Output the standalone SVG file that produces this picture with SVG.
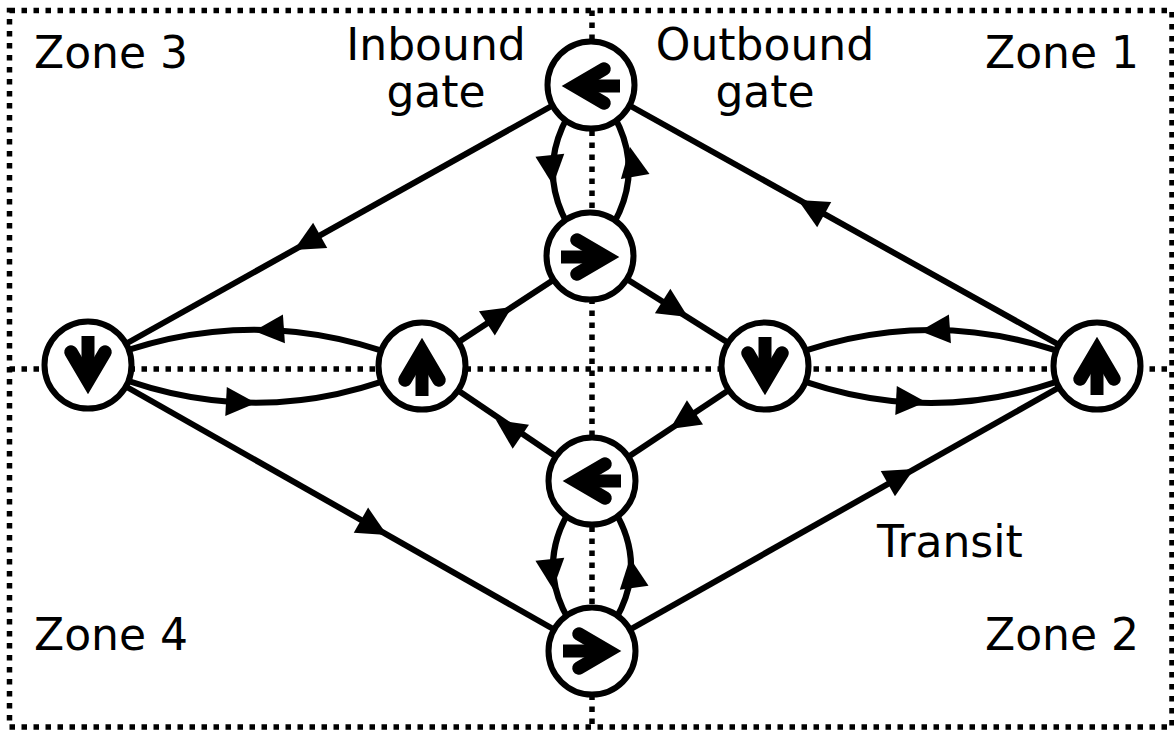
<svg xmlns="http://www.w3.org/2000/svg" xmlns:xlink="http://www.w3.org/1999/xlink" width="1174" height="730" viewBox="0 0 1174 730">
<style>
.dot{fill:none;stroke:#000;stroke-width:5.5;stroke-dasharray:5.5 6.5}
.edge{fill:none;stroke:#000;stroke-width:6}
.node circle{fill:#fff;stroke:#000;stroke-width:6}
.lbl{font-family:"DejaVu Sans","Liberation Sans",sans-serif;font-size:44px;fill:#000}
.mid{text-anchor:middle}
</style>
<defs>
<path id="ah" d="M0,0 L-30,-14.5 L-30,14.5 Z" fill="#000"/>
<g id="icon">
<path d="M-29,0 H10" stroke="#000" stroke-width="13" fill="none"/>
<path d="M-13,-17 L16,0 L-13,17" stroke="#000" stroke-width="13.5" stroke-linecap="round" stroke-linejoin="miter" fill="none"/>
</g>
</defs>
<rect width="1174" height="730" fill="#fff"/>
<g id="zones">
<rect class="dot" x="9.5" y="10.5" width="1162.5" height="716.5"/>
<path class="dot" d="M592,10.5 V727"/>
<path class="dot" d="M9.5,369 H1172"/>
</g>
<g id="labels">
<text class="lbl" x="34" y="68">Zone 3</text>
<text class="lbl" x="985" y="68">Zone 1</text>
<text class="lbl" x="34" y="650">Zone 4</text>
<text class="lbl" x="985" y="650">Zone 2</text>
<text class="lbl mid" x="436" y="60">Inbound</text>
<text class="lbl mid" x="436" y="107">gate</text>
<text class="lbl mid" x="765" y="60">Outbound</text>
<text class="lbl mid" x="765" y="107">gate</text>
<text class="lbl" x="877" y="557">Transit</text>
</g>
<g id="connectors">
<path class="edge" d="M591,84 L88,365"/>
<path class="edge" d="M1097,366 L591,84"/>
<path class="edge" d="M88,365 L592,651"/>
<path class="edge" d="M592,651 L1097,366"/>
<path class="edge" d="M422,366 L590,256"/>
<path class="edge" d="M590,256 L765,366"/>
<path class="edge" d="M765,366 L592,481"/>
<path class="edge" d="M592,481 L422,366"/>
<path class="edge" d="M591,84 Q515,170 590,256"/>
<path class="edge" d="M590,256 Q667,170 591,84"/>
<path class="edge" d="M592,481 Q514,566 592,651"/>
<path class="edge" d="M592,651 Q670,566 592,481"/>
<path class="edge" d="M422,366 Q255,294 88,365"/>
<path class="edge" d="M88,365 Q255,440 422,366"/>
<path class="edge" d="M1097,366 Q931,294 765,366"/>
<path class="edge" d="M765,366 Q931,440 1097,366"/>
<use xlink:href="#ah" transform="translate(294,250) rotate(150.8)"/>
<use xlink:href="#ah" transform="translate(798,200) rotate(-150.9)"/>
<use xlink:href="#ah" transform="translate(387,535) rotate(29.6)"/>
<use xlink:href="#ah" transform="translate(914,469) rotate(-29.4)"/>
<use xlink:href="#ah" transform="translate(512,307) rotate(-33.2)"/>
<use xlink:href="#ah" transform="translate(688,317) rotate(32.2)"/>
<use xlink:href="#ah" transform="translate(670,429) rotate(146.4)"/>
<use xlink:href="#ah" transform="translate(496,420) rotate(-145.9)"/>
<use xlink:href="#ah" transform="translate(553,185) rotate(84)"/>
<use xlink:href="#ah" transform="translate(630,147) rotate(-100)"/>
<use xlink:href="#ah" transform="translate(553,589) rotate(84)"/>
<use xlink:href="#ah" transform="translate(630,558) rotate(-98)"/>
<use xlink:href="#ah" transform="translate(254,331) rotate(176)"/>
<use xlink:href="#ah" transform="translate(256,403) rotate(3)"/>
<use xlink:href="#ah" transform="translate(920,331) rotate(176)"/>
<use xlink:href="#ah" transform="translate(926,402) rotate(3)"/>
</g>
<g id="node-top" class="node"><circle cx="591" cy="85" r="43.5"/><use xlink:href="#icon" transform="translate(591,86) rotate(180)"/></g>
<g id="node-upper" class="node"><circle cx="590" cy="256" r="43.5"/><use xlink:href="#icon" transform="translate(590,257)"/></g>
<g id="node-inner-left" class="node"><circle cx="422" cy="366" r="43.5"/><use xlink:href="#icon" transform="translate(422,367) rotate(-90)"/></g>
<g id="node-inner-right" class="node"><circle cx="765" cy="366" r="43.5"/><use xlink:href="#icon" transform="translate(765,366) rotate(90)"/></g>
<g id="node-lower" class="node"><circle cx="592" cy="481" r="43.5"/><use xlink:href="#icon" transform="translate(592,481) rotate(180)"/></g>
<g id="node-bottom" class="node"><circle cx="592" cy="651" r="43.5"/><use xlink:href="#icon" transform="translate(592,651)"/></g>
<g id="node-far-left" class="node"><circle cx="88" cy="365" r="43.5"/><use xlink:href="#icon" transform="translate(88,365) rotate(90)"/></g>
<g id="node-far-right" class="node"><circle cx="1097" cy="366" r="43.5"/><use xlink:href="#icon" transform="translate(1097,366) rotate(-90)"/></g>
</svg>
